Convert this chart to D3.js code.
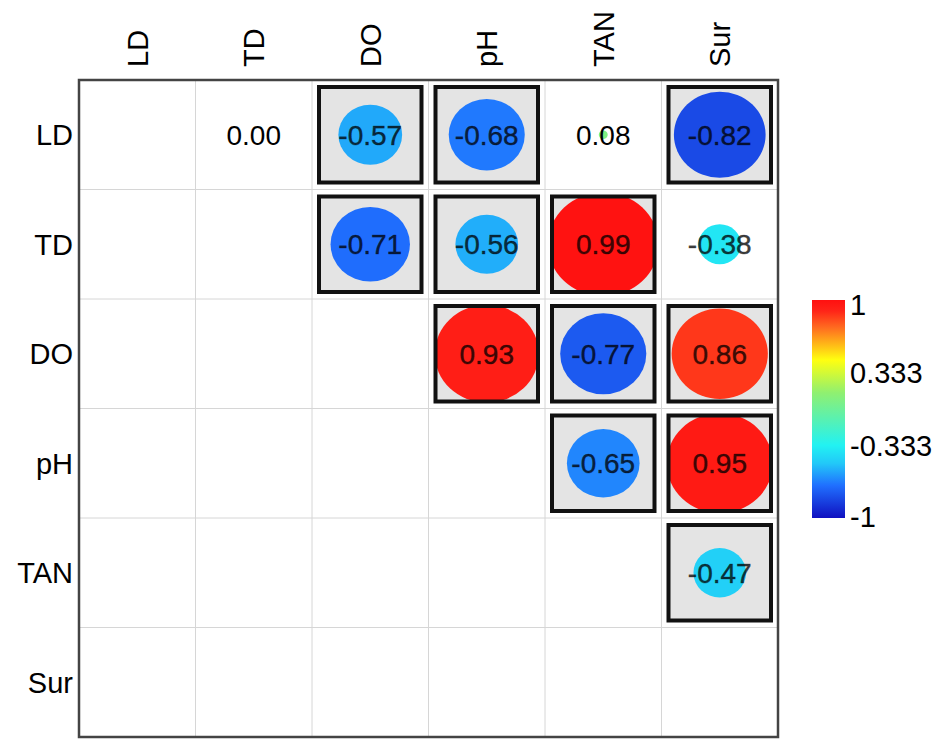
<!DOCTYPE html>
<html>
<head>
<meta charset="utf-8">
<script src="https://cdn.jsdelivr.net/npm/d3@7"></script>
<style>
  body { margin: 0; background: #fff; }
  text { font-family: "Liberation Sans", Arial, sans-serif; }
</style>
</head>
<body>
<div id="chart"></div>
<script>
// variables in the matrix
const vars = ["LD", "TD", "DO", "pH", "TAN", "Sur"];

// upper triangle: row, column, r value, significant (boxed)
const rows = ["LD", "LD", "LD", "LD", "LD", "TD", "TD", "TD", "TD", "DO", "DO", "DO", "pH", "pH", "TAN"];
const cols = ["TD", "DO", "pH", "TAN", "Sur", "DO", "pH", "TAN", "Sur", "pH", "TAN", "Sur", "TAN", "Sur", "Sur"];
const values = [0.00, -0.57, -0.68, 0.08, -0.82, -0.71, -0.56, 0.99, -0.38, 0.93, -0.77, 0.86, -0.65, 0.95, -0.47];
const significant = [false, true, true, false, true, true, true, true, false, true, true, true, true, true, true];

// colour bar ticks
const legendTicks = [1, 0.333, -0.333, -1];

const width = 938;
const height = 739;
const plot = { left: 79, right: 778, top: 80, bottom: 737 };

const cells = values.map((v, i) => ({ row: rows[i], col: cols[i], value: v, sig: significant[i] }));

const svg = d3.select("#chart").append("svg")
  .attr("width", width)
  .attr("height", height);

const x = d3.scaleBand().domain(vars).range([plot.left, plot.right]);
const y = d3.scaleBand().domain(vars).range([plot.top, plot.bottom]);

// jet-like colour map
const color = d3.scaleLinear()
  .domain([-1, -0.7, -0.5, -0.333, 0.15, 0.45, 0.75, 0.9, 1])
  .range(["#1010c0", "#2070ff", "#22c8f8", "#22f2f2", "#90f070", "#ffff10", "#ff6a20", "#ff2418", "#ff1010"])
  .clamp(true);

// circle size as a fraction of the cell
const size = d3.scaleLinear().domain([0, 1]).range([0, 0.96]);

// light grid
const grid = svg.append("g").attr("stroke", "#d6d6d6").attr("stroke-width", 1);
vars.slice(1).forEach(v => {
  grid.append("line")
    .attr("x1", x(v)).attr("x2", x(v))
    .attr("y1", plot.top).attr("y2", plot.bottom);
  grid.append("line")
    .attr("x1", plot.left).attr("x2", plot.right)
    .attr("y1", y(v)).attr("y2", y(v));
});

const defs = svg.append("defs");
const inset = 7;

const cell = svg.append("g").selectAll("g")
  .data(cells)
  .join("g")
  .attr("transform", d => `translate(${x(d.col)},${y(d.row)})`);

cell.each(function (d, i) {
  defs.append("clipPath").attr("id", "clip" + i)
    .append("rect")
    .attr("x", inset).attr("y", inset)
    .attr("width", x.bandwidth() - 2 * inset)
    .attr("height", y.bandwidth() - 2 * inset);
});

cell.filter(d => d.sig).append("rect")
  .attr("x", inset).attr("y", inset)
  .attr("width", x.bandwidth() - 2 * inset)
  .attr("height", y.bandwidth() - 2 * inset)
  .attr("fill", "#e4e4e4");

cell.append("ellipse")
  .attr("clip-path", (d, i) => `url(#clip${i})`)
  .attr("cx", x.bandwidth() / 2)
  .attr("cy", y.bandwidth() / 2)
  .attr("rx", d => size(Math.abs(d.value)) * x.bandwidth() / 2)
  .attr("ry", d => size(Math.abs(d.value)) * y.bandwidth() / 2)
  .attr("fill", d => color(d.value));

cell.filter(d => d.sig).append("rect")
  .attr("x", inset).attr("y", inset)
  .attr("width", x.bandwidth() - 2 * inset)
  .attr("height", y.bandwidth() - 2 * inset)
  .attr("fill", "none")
  .attr("stroke", "#111")
  .attr("stroke-width", 4);

cell.append("text")
  .attr("x", x.bandwidth() / 2)
  .attr("y", y.bandwidth() / 2)
  .attr("dy", "0.36em")
  .attr("text-anchor", "middle")
  .attr("font-size", 28)
  .attr("fill", "#000")
  .attr("fill-opacity", d => Math.abs(d.value) > 0.3 ? 0.75 : 1)
  .attr("stroke", "#000")
  .attr("stroke-opacity", d => Math.abs(d.value) > 0.3 ? 0.5 : 0)
  .attr("stroke-width", 0.6)
  .text(d => d.value.toFixed(2));

// outer frame
svg.append("rect")
  .attr("x", plot.left).attr("y", plot.top)
  .attr("width", plot.right - plot.left)
  .attr("height", plot.bottom - plot.top)
  .attr("fill", "none")
  .attr("stroke", "#444")
  .attr("stroke-width", 2.5);

// column labels
svg.append("g").selectAll("text")
  .data(vars)
  .join("text")
  .attr("transform", d => `translate(${x(d) + x.bandwidth() / 2},67) rotate(-90)`)
  .attr("dy", "0.36em")
  .attr("text-anchor", "start")
  .attr("font-size", 29)
  .attr("fill", "#000")
  .text(d => d);

// row labels
svg.append("g").selectAll("text")
  .data(vars)
  .join("text")
  .attr("x", 73)
  .attr("y", d => y(d) + y.bandwidth() / 2)
  .attr("dy", "0.36em")
  .attr("text-anchor", "end")
  .attr("font-size", 29)
  .attr("fill", "#000")
  .text(d => d);

// colour bar
const legendY = d3.scaleLinear().domain([-1, 1]).range([518, 300]);
const grad = defs.append("linearGradient")
  .attr("id", "jet")
  .attr("x1", 0).attr("x2", 0).attr("y1", 1).attr("y2", 0);
grad.selectAll("stop")
  .data(color.domain())
  .join("stop")
  .attr("offset", d => (d + 1) / 2)
  .attr("stop-color", d => color(d));

svg.append("rect")
  .attr("x", 812).attr("y", legendY(1))
  .attr("width", 33)
  .attr("height", legendY(-1) - legendY(1))
  .attr("fill", "url(#jet)");

svg.append("g").selectAll("text")
  .data(legendTicks)
  .join("text")
  .attr("x", 850)
  .attr("y", d => legendY(d) + (d === 1 ? 5 : d === -1 ? -1 : 0))
  .attr("dy", "0.36em")
  .attr("font-size", 29)
  .attr("fill", "#000")
  .text(d => d);
</script>
</body>
</html>
